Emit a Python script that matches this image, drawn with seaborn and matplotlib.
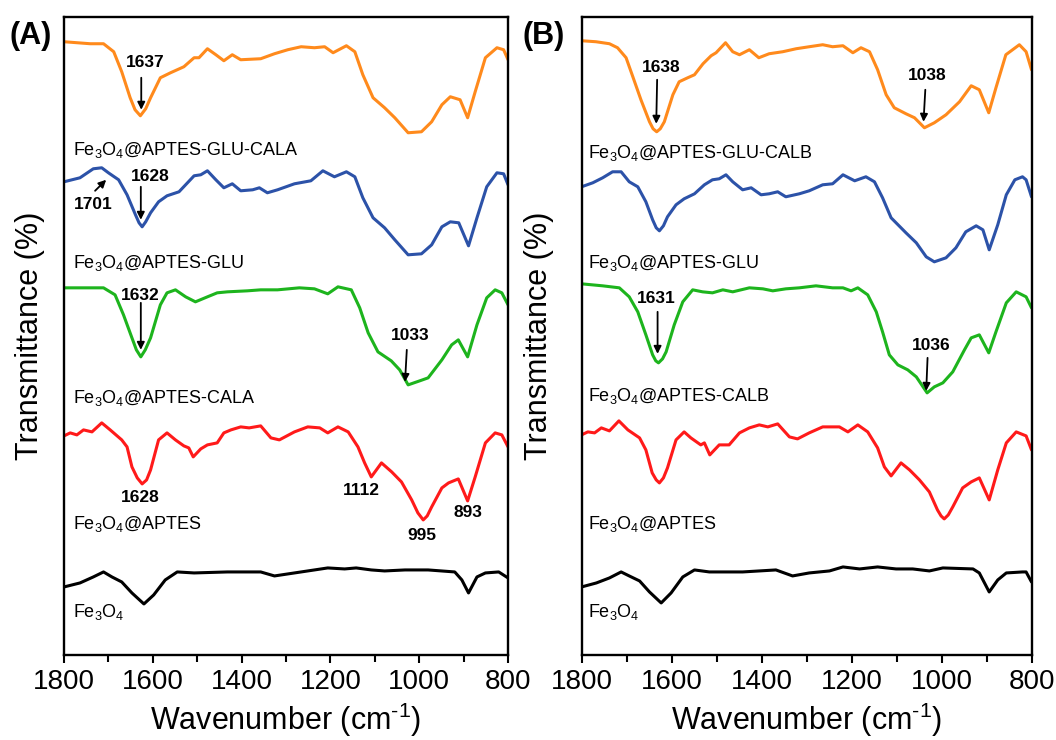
import numpy as np
import pandas as pd
import seaborn as sns
import matplotlib.pyplot as plt

# ---------------------------------------------------------------------------
# spectra (wavenumber in cm-1, transmittance in a.u., stacked)
# panel A : CALA series
a_glucala_wn = [1800, 1741, 1711, 1688, 1670, 1651, 1640, 1628, 1616, 1605, 1583, 1560, 1530, 1507, 1496,
                1477, 1458, 1440, 1421, 1402, 1357, 1326, 1296, 1266, 1236, 1213, 1194, 1164, 1145, 1127,
                1104, 1078, 1055, 1025, 995, 972, 949, 930, 908, 891, 874, 851, 825, 810, 800]
a_glucala_t = [610, 608, 608, 600, 580, 554, 542, 536, 543, 554, 574, 579, 585, 594, 594,
               603, 597, 591, 597, 592, 593, 598, 602, 605, 604, 605, 599, 606, 600, 577,
               554, 544, 534, 519, 520, 530, 547, 555, 552, 534, 560, 594, 604, 602, 592]

a_glu_wn = [1800, 1764, 1734, 1715, 1700, 1677, 1658, 1639, 1631, 1624, 1616, 1605, 1587, 1568, 1541,
            1507, 1492, 1477, 1458, 1440, 1421, 1402, 1375, 1360, 1342, 1319, 1281, 1244, 1217, 1191,
            1164, 1145, 1127, 1104, 1078, 1055, 1025, 995, 972, 949, 930, 911, 889, 870, 848, 825,
            810, 800]
a_glu_t = [470, 474, 483, 484, 479, 472, 457, 437, 429, 425, 430, 439, 450, 456, 460,
           476, 477, 481, 472, 464, 468, 461, 462, 464, 459, 462, 468, 471, 481, 475,
           480, 475, 454, 434, 424, 412, 397, 398, 407, 425, 430, 429, 406, 434, 465, 479,
           478, 467]

a_cala_wn = [1800, 1711, 1685, 1666, 1647, 1637, 1627, 1617, 1605, 1583, 1568, 1549, 1526, 1504, 1477,
             1455, 1432, 1387, 1357, 1319, 1270, 1236, 1206, 1183, 1153, 1134, 1115, 1093, 1063, 1044,
             1025, 999, 980, 949, 927, 912, 891, 870, 848, 829, 814, 800]
a_cala_t = [364, 364, 357, 337, 314, 302, 295, 302, 314, 347, 359, 362, 355, 350, 355,
            359, 360, 361, 362, 362, 364, 363, 358, 365, 362, 344, 319, 300, 291, 282,
            267, 271, 274, 292, 307, 312, 295, 327, 354, 362, 359, 347]

a_aptes_wn = [1800, 1786, 1771, 1756, 1737, 1715, 1696, 1670, 1658, 1647, 1635, 1624, 1614, 1605, 1587,
              1568, 1549, 1530, 1519, 1509, 1492, 1477, 1455, 1440, 1424, 1402, 1383, 1357, 1334, 1315,
              1281, 1251, 1224, 1206, 1183, 1160, 1138, 1123, 1108, 1085, 1062, 1040, 1017, 1003, 991,
              982, 972, 949, 934, 912, 891, 874, 851, 829, 814, 800]
a_aptes_t = [216, 219, 217, 222, 220, 229, 222, 212, 205, 185, 174, 168, 172, 182, 212,
             219, 212, 206, 204, 195, 203, 207, 209, 219, 222, 225, 224, 226, 214, 212,
             220, 225, 224, 219, 225, 220, 205, 189, 175, 189, 180, 170, 152, 139, 132,
             136, 145, 164, 169, 173, 151, 175, 209, 219, 217, 205]

a_fe3o4_wn = [1800, 1764, 1734, 1711, 1692, 1670, 1647, 1620, 1598, 1572, 1545, 1507, 1432, 1357, 1326,
              1281, 1236, 1206, 1168, 1142, 1108, 1078, 1032, 980, 920, 904, 889, 870, 851, 821, 800]
a_fe3o4_t = [65, 69, 75, 80, 75, 70, 59, 48, 57, 72, 80, 79, 80, 80, 76,
             79, 82, 84, 83, 84, 82, 81, 82, 82, 80, 72, 59, 75, 79, 80, 74]

# panel B : CALB series
b_glucalb_wn = [1800, 1768, 1738, 1720, 1701, 1686, 1668, 1649, 1641, 1633, 1625, 1616, 1597, 1583, 1564,
                1549, 1530, 1512, 1501, 1480, 1464, 1449, 1427, 1406, 1383, 1353, 1323, 1294, 1264, 1242,
                1219, 1197, 1179, 1160, 1142, 1123, 1105, 1079, 1060, 1038, 1016, 990, 960, 934, 916,
                895, 879, 857, 827, 812, 800]
b_glucalb_t = [611, 610, 608, 604, 594, 575, 552, 530, 523, 520, 523, 530, 557, 570, 574,
               577, 588, 596, 599, 609, 600, 597, 602, 594, 598, 600, 603, 605, 607, 605,
               606, 599, 604, 600, 582, 557, 544, 538, 534, 524, 529, 537, 550, 566, 562,
               539, 564, 597, 607, 600, 582]

b_glu_wn = [1800, 1775, 1753, 1731, 1712, 1694, 1675, 1657, 1642, 1634, 1627, 1618, 1609, 1590, 1572,
            1549, 1527, 1509, 1494, 1479, 1464, 1442, 1423, 1401, 1383, 1364, 1346, 1316, 1294, 1264,
            1242, 1219, 1193, 1168, 1149, 1131, 1112, 1079, 1056, 1034, 1016, 990, 968, 946, 923,
            908, 894, 875, 856, 837, 820, 812, 800]
b_glu_t = [465, 469, 474, 480, 480, 470, 465, 450, 432, 424, 421, 426, 435, 447, 453,
           458, 467, 472, 473, 477, 470, 462, 464, 457, 458, 460, 455, 458, 461, 467,
           468, 477, 471, 475, 470, 454, 434, 419, 409, 395, 390, 394, 404, 420, 426,
           422, 402, 427, 457, 472, 475, 472, 455]

b_calb_wn = [1800, 1753, 1716, 1694, 1675, 1657, 1642, 1635, 1629, 1620, 1612, 1594, 1575, 1553, 1531,
             1509, 1486, 1464, 1427, 1397, 1375, 1346, 1316, 1279, 1242, 1219, 1201, 1186, 1164, 1145,
             1131, 1116, 1097, 1075, 1056, 1032, 1016, 997, 975, 949, 934, 916, 895, 879, 856,
             834, 812, 800]
b_calb_t = [368, 366, 364, 355, 340, 317, 297, 291, 289, 293, 300, 327, 350, 362, 360,
            359, 362, 360, 364, 363, 361, 363, 364, 366, 364, 364, 361, 364, 357, 340,
            320, 297, 287, 282, 275, 259, 265, 269, 280, 302, 314, 317, 299, 320, 349,
            360, 355, 344]

b_aptes_wn = [1800, 1786, 1771, 1756, 1738, 1717, 1697, 1671, 1657, 1643, 1634, 1627, 1618, 1609, 1590,
              1572, 1557, 1535, 1527, 1515, 1494, 1472, 1449, 1427, 1405, 1386, 1364, 1338, 1320, 1294,
              1264, 1227, 1208, 1186, 1164, 1142, 1127, 1112, 1090, 1071, 1049, 1027, 1009, 1001, 994,
              985, 975, 953, 934, 916, 894, 875, 856, 834, 812, 800]
b_aptes_t = [217, 220, 219, 224, 221, 231, 222, 214, 202, 179, 172, 169, 174, 184, 212,
             220, 214, 207, 209, 197, 207, 207, 219, 224, 227, 225, 228, 215, 213, 219,
             225, 225, 220, 227, 220, 204, 185, 176, 189, 182, 172, 160, 142, 136, 133,
             137, 145, 164, 170, 174, 152, 182, 209, 220, 216, 202]

b_fe3o4_wn = [1800, 1767, 1738, 1712, 1694, 1671, 1649, 1623, 1601, 1575, 1549, 1516, 1442, 1368, 1331,
              1294, 1249, 1219, 1182, 1142, 1101, 1064, 1027, 997, 930, 916, 894, 875, 856, 820, 812, 800]
b_fe3o4_t = [65, 69, 74, 80, 76, 71, 60, 49, 59, 75, 82, 80, 80, 82, 76,
             79, 81, 85, 83, 85, 83, 83, 81, 84, 83, 79, 60, 72, 79, 80, 80, 70]

xticks = [1800, 1600, 1400, 1200, 1000, 800]
minor_xticks = [1700, 1500, 1300, 1100, 900]

palette = {
    "glu_enz": "#FF8A1C",
    "glu": "#2C52A8",
    "enz": "#1DB41D",
    "aptes": "#FF1A1A",
    "fe3o4": "#000000",
}


def _spectra_df(curves):
    frames = [pd.DataFrame({"wn": wn, "T": t, "sample": name}) for name, wn, t in curves]
    return pd.concat(frames, ignore_index=True)


def _style_axis(ax):
    ax.set_xlim(1800, 800)
    ax.set_ylim(-3, 635)
    ax.set_xticks(xticks)
    ax.set_xticks(minor_xticks, minor=True)
    ax.set_yticks([])
    ax.tick_params(axis="x", which="major", direction="out", length=6, width=1.5,
                   labelsize=20, pad=4, bottom=True, top=False, colors="black")
    ax.tick_params(axis="x", which="minor", direction="out", length=5, width=1.5,
                   bottom=True, top=False, colors="black")
    for sp in ax.spines.values():
        sp.set_visible(True)
        sp.set_color("black")
        sp.set_linewidth(1.7)
    ax.set_xlabel(r"Wavenumber (cm$^{\text{-1}}$)", fontsize=22, labelpad=4)
    ax.set_ylabel("Transmittance (%)", fontsize=22)


def _arrow(ax, tail, head):
    ax.annotate("", xy=head, xytext=tail,
                arrowprops=dict(arrowstyle="-|>", color="black", lw=1.3,
                                mutation_scale=11, shrinkA=0, shrinkB=0))


def _num(ax, txt, x, y):
    ax.text(x, y, txt, fontsize=12.5, fontweight="bold", ha="center", va="center")


sns.set_theme(style="white")
plt.rcParams["font.family"] = ["Liberation Sans", "DejaVu Sans"]
plt.rcParams["mathtext.fontset"] = "custom"
plt.rcParams["mathtext.rm"] = "Liberation Sans"
plt.rcParams["mathtext.it"] = "Liberation Sans:italic"
plt.rcParams["mathtext.bf"] = "Liberation Sans:bold"
plt.rcParams["text.color"] = "black"
plt.rcParams["axes.labelcolor"] = "black"

fig = plt.figure(figsize=(10.56, 7.40), dpi=100)
ax_a = fig.add_axes([0.0606, 0.1149, 0.4205, 0.8625])
ax_b = fig.add_axes([0.5507, 0.1149, 0.4261, 0.8625])

df_a = _spectra_df([
    ("glu_enz", a_glucala_wn, a_glucala_t),
    ("glu", a_glu_wn, a_glu_t),
    ("enz", a_cala_wn, a_cala_t),
    ("aptes", a_aptes_wn, a_aptes_t),
    ("fe3o4", a_fe3o4_wn, a_fe3o4_t),
])
df_b = _spectra_df([
    ("glu_enz", b_glucalb_wn, b_glucalb_t),
    ("glu", b_glu_wn, b_glu_t),
    ("enz", b_calb_wn, b_calb_t),
    ("aptes", b_aptes_wn, b_aptes_t),
    ("fe3o4", b_fe3o4_wn, b_fe3o4_t),
])

for ax, df in [(ax_a, df_a), (ax_b, df_b)]:
    sns.lineplot(data=df, x="wn", y="T", hue="sample", palette=palette,
                 estimator=None, sort=False, legend=False, lw=2.2, ax=ax)
    for ln in ax.get_lines():
        ln.set_solid_joinstyle("round")
        ln.set_solid_capstyle("round")
    _style_axis(ax)

ax_a.yaxis.labelpad = 14
ax_b.yaxis.labelpad = 20

fe = r"Fe$_\mathregular{3}$O$_\mathregular{4}$"
lab_kw = dict(fontsize=13, ha="left", va="baseline")
# sample names, panel A
ax_a.text(1780, 497, fe + "@APTES-GLU-CALA", **lab_kw)
ax_a.text(1780, 384, fe + "@APTES-GLU", **lab_kw)
ax_a.text(1780, 249, fe + "@APTES-CALA", **lab_kw)
ax_a.text(1780, 123, fe + "@APTES", **lab_kw)
ax_a.text(1780, 35, fe, **lab_kw)
# sample names, panel B
ax_b.text(1786, 494, fe + "@APTES-GLU-CALB", **lab_kw)
ax_b.text(1786, 384, fe + "@APTES-GLU", **lab_kw)
ax_b.text(1786, 251, fe + "@APTES-CALB", **lab_kw)
ax_b.text(1786, 123, fe + "@APTES", **lab_kw)
ax_b.text(1786, 35, fe, **lab_kw)

# peak markers, panel A
_num(ax_a, "1637", 1618, 589)
_arrow(ax_a, (1626, 574), (1626, 542))
_num(ax_a, "1701", 1734, 447)
_arrow(ax_a, (1730, 461), (1705, 472))
_num(ax_a, "1628", 1606, 475)
_arrow(ax_a, (1627, 465), (1627, 432))
_num(ax_a, "1632", 1629, 356)
_arrow(ax_a, (1627, 349), (1627, 302))
_num(ax_a, "1033", 1021, 316)
_arrow(ax_a, (1028, 302), (1032, 270))
_num(ax_a, "1628", 1629, 154)
_num(ax_a, "1112", 1130, 161)
_num(ax_a, "995", 995, 116)
_num(ax_a, "893", 890, 139)

# peak markers, panel B
_num(ax_b, "1638", 1623, 584)
_arrow(ax_b, (1632, 572), (1634, 528))
_num(ax_b, "1038", 1031, 576)
_arrow(ax_b, (1036, 562), (1040, 530))
_num(ax_b, "1631", 1634, 353)
_arrow(ax_b, (1631, 340), (1631, 298))
_num(ax_b, "1036", 1023, 306)
_arrow(ax_b, (1031, 294), (1034, 261))

fig.text(31 / 1056, 1 - 36 / 740, "(A)", fontsize=22, fontweight="bold", ha="center", va="center")
fig.text(544 / 1056, 1 - 36 / 740, "(B)", fontsize=22, fontweight="bold", ha="center", va="center")

fig.savefig("out.png", dpi=100)
